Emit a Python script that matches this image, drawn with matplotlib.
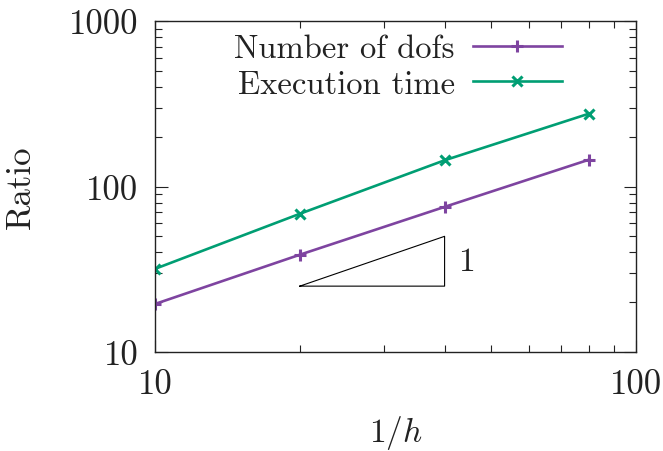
import matplotlib
matplotlib.use("Agg")
import matplotlib.pyplot as plt
from matplotlib.ticker import FixedLocator, NullFormatter, FixedFormatter

plt.rcParams['font.family'] = 'serif'
plt.rcParams['font.serif'] = ['cmr10', 'DejaVu Serif']
plt.rcParams['mathtext.fontset'] = 'cm'
plt.rcParams['axes.formatter.use_mathtext'] = True

inv_h = [10, 20, 40, 80]
dofs = [19.5, 38.7, 75.3, 145.5]
exec_time = [31.8, 68.4, 144.0, 276.0]
series_labels = ["Number of dofs", "Execution time"]
x_ticks = [10, 100]
y_ticks = [10, 100, 1000]
tri_x = [20, 40, 40, 20]
tri_y = [25, 25, 50, 25]

purple = '#7e44a0'
green = '#009e73'
ink = '#222222'

fig = plt.figure(figsize=(6.63, 4.52), dpi=100)
ax = fig.add_axes([155/663, 1 - 353/452, (636-155)/663, (353-22)/452])

ax.plot(inv_h, dofs, color=purple, lw=1.9, marker='+', ms=8, mew=2.2, label=series_labels[0])
ax.plot(inv_h, exec_time, color=green, lw=1.9, marker='x', ms=7, mew=2.2, label=series_labels[1])
ax.plot(tri_x, tri_y, color='black', lw=0.8)
ax.text(42.6, 35, "1", fontsize=24, ha='left', va='center', color=ink)

ax.set_xscale('log')
ax.set_yscale('log')
ax.set_xlim(10, 100)
ax.set_ylim(10, 1000)

ax.xaxis.set_major_locator(FixedLocator(x_ticks))
ax.xaxis.set_major_formatter(FixedFormatter([str(v) for v in x_ticks]))
ax.yaxis.set_major_locator(FixedLocator(y_ticks))
ax.yaxis.set_major_formatter(FixedFormatter([str(v) for v in y_ticks]))
ax.xaxis.set_minor_locator(FixedLocator([20, 30, 40, 50, 60, 70, 80, 90]))
ax.yaxis.set_minor_locator(FixedLocator([v * d for d in (10, 100) for v in range(2, 10)]))
ax.xaxis.set_minor_formatter(NullFormatter())
ax.yaxis.set_minor_formatter(NullFormatter())

ax.tick_params(which='both', direction='in', top=True, right=True, colors=ink,
               labelsize=25, width=0.8)
ax.tick_params(which='major', length=9)
ax.tick_params(which='minor', length=5)
ax.tick_params(axis='x', which='major', pad=12)
ax.tick_params(axis='y', which='major', pad=12)
for s in ax.spines.values():
    s.set_color(ink)
    s.set_linewidth(1.0)

ax.set_xlabel(r"$1/h$", fontsize=24, color=ink)
ax.set_ylabel("Ratio", fontsize=25, color=ink)
ax.xaxis.set_label_coords(0.5, -0.185)
ax.yaxis.set_label_coords(-0.245, 0.5)

leg = ax.legend(loc='upper right', bbox_to_anchor=(0.873, 1.0), frameon=False, markerfirst=False,
                fontsize=23.5, handlelength=2.73, handletextpad=0.55, labelspacing=0.2,
                borderaxespad=0.0)
for t in leg.get_texts():
    t.set_color(ink)

fig.savefig("out.png", dpi=100)
